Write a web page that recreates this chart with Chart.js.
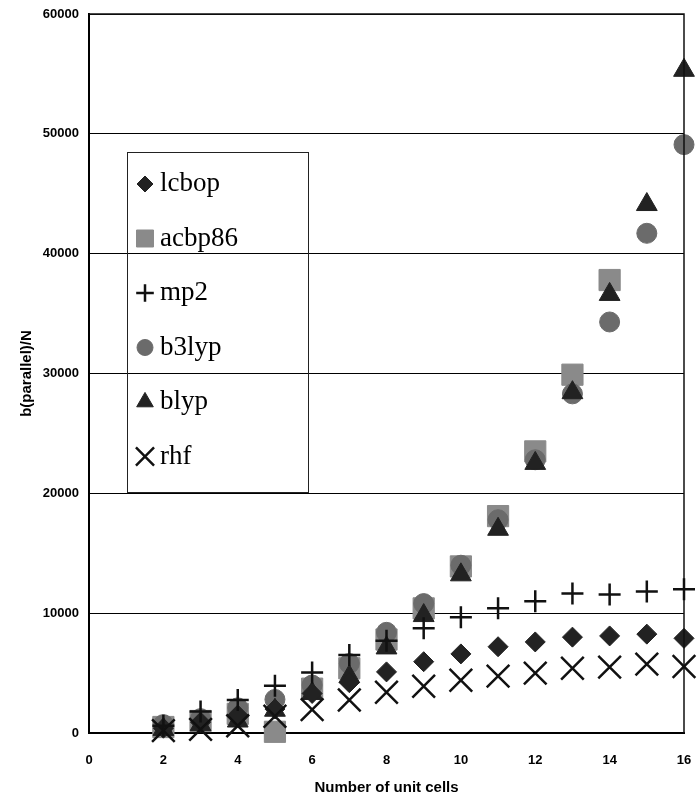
<!DOCTYPE html>
<html>
<head>
<meta charset="utf-8">
<script src="https://cdn.jsdelivr.net/npm/chart.js@4.4.0/dist/chart.umd.min.js"></script>
<style>
  html, body { margin: 0; padding: 0; background: #fff; }
  #wrap { width: 698px; height: 801px; }
</style>
</head>
<body>
<div id="wrap"><canvas id="chart" width="698" height="801"></canvas></div>
<script>
const cells = [2, 3, 4, 5, 6, 7, 8, 9, 10, 11, 12, 13, 14, 15, 16];
const lcbop  = [400, 900, 1500, 2000, 3300, 4200, 5100, 5950, 6600, 7200, 7600, 8000, 8100, 8250, 7900];
const acbp86 = [500, 1000, 1600, 100, 3700, 5400, 7800, 10400, 13900, 18100, 23500, 29900, 37800, null, null];
const mp2    = [600, 1800, 2750, 3950, 5050, 6500, 7700, 8750, 9650, 10400, 11000, 11650, 11550, 11800, 12000];
const b3lyp  = [700, 1200, 2100, 2800, 4000, 5800, 8400, 10800, 14000, 17800, 22800, 28300, 34300, 41700, 49100];
const blyp   = [300, 700, 1000, 1900, 3300, 4700, 7100, 9800, 13200, 17000, 22500, 28400, 36600, 44100, 55300];
const rhf    = [200, 300, 600, 1400, 1950, 2750, 3400, 3900, 4400, 4750, 5000, 5400, 5500, 5750, 5550];

const xTicks = [0, 2, 4, 6, 8, 10, 12, 14, 16];
const yTicks = [0, 10000, 20000, 30000, 40000, 50000, 60000];

function pts(vals) {
  return cells.map((c, i) => ({ x: c, y: vals[i] })).filter(p => p.y !== null);
}

const series = [
  { label: 'lcbop',  data: lcbop,  style: 'rectRot',  r: 10, fill: '#222', line: '#222', bw: 1,   order: 2 },
  { label: 'acbp86', data: acbp86, style: 'rect',     r: 15, fill: '#8a8a8a', line: '#8a8a8a', bw: 1, order: 5 },
  { label: 'mp2',    data: mp2,    style: 'cross',    r: 11, fill: '#111', line: '#111', bw: 2.5, order: 0 },
  { label: 'b3lyp',  data: b3lyp,  style: 'circle',   r: 10, fill: '#6b6b6b', line: '#6b6b6b', bw: 1, order: 4 },
  { label: 'blyp',   data: blyp,   style: 'triangle', r: 12, fill: '#222', line: '#222', bw: 1,   order: 3 },
  { label: 'rhf',    data: rhf,    style: 'crossRot', r: 16, fill: '#111', line: '#111', bw: 2.5, order: 1 }
];

const boxLegend = {
  id: 'boxLegend',
  afterDraw(chart) {
    const ctx = chart.ctx;
    const a = chart.chartArea;
    const left = a.left + 38, top = a.top + 138, w = 181, h = 340;
    ctx.save();
    ctx.lineWidth = 1;
    ctx.strokeStyle = '#222';
    ctx.strokeRect(left + 0.5, top + 0.5, w, h);
    ctx.font = '27px "Liberation Serif", "Times New Roman", serif';
    ctx.textBaseline = 'middle';
    ctx.textAlign = 'left';
    series.forEach((s, i) => {
      const y = top + 32 + i * 54.5;
      const x = left + 18;
      ctx.fillStyle = s.fill;
      ctx.strokeStyle = s.line;
      ctx.lineWidth = s.bw;
      Chart.helpers.drawPoint(ctx, { pointStyle: s.style, radius: s.r * 0.8, rotation: 0, borderWidth: s.bw }, x, y);
      ctx.fillStyle = '#000';
      ctx.fillText(s.label, left + 33, y);
    });
    ctx.restore();
  }
};

const frame = {
  id: 'frame',
  afterDatasetsDraw(chart) {
    const ctx = chart.ctx;
    const a = chart.chartArea;
    ctx.save();
    ctx.strokeStyle = '#111';
    ctx.lineWidth = 1.5;
    ctx.beginPath();
    ctx.moveTo(a.left, a.top);
    ctx.lineTo(a.right, a.top);
    ctx.lineTo(a.right, a.bottom);
    ctx.stroke();
    ctx.restore();
  }
};

const tickFont = { family: '"Liberation Sans", Arial, sans-serif', size: 13, weight: 'bold' };

new Chart(document.getElementById('chart'), {
  type: 'scatter',
  data: {
    datasets: series.map(s => ({
      label: s.label,
      data: pts(s.data),
      pointStyle: s.style,
      pointRadius: s.r,
      pointHoverRadius: s.r,
      backgroundColor: s.fill,
      borderColor: s.line,
      borderWidth: s.bw,
      order: s.order,
      clip: false
    }))
  },
  options: {
    responsive: false,
    animation: false,
    layout: { autoPadding: false, padding: { top: 14, right: 14, left: 0, bottom: 0 } },
    plugins: {
      legend: { display: false },
      tooltip: { enabled: false }
    },
    scales: {
      x: {
        type: 'linear',
        min: 0, max: 16,
        afterBuildTicks: s => { s.ticks = xTicks.map(v => ({ value: v })); },
        afterFit: s => { s.height = 68; s.paddingLeft = 0; s.paddingRight = 0; },
        ticks: { color: '#000', padding: 12, font: tickFont, callback: v => String(v) },
        grid: { display: false },
        border: { display: true, color: '#000', width: 2 },
        title: {
          display: true, text: 'Number of unit cells', color: '#000',
          font: { family: '"Liberation Sans", Arial, sans-serif', size: 15, weight: 'bold' },
          padding: { top: 0, bottom: 4 }
        }
      },
      y: {
        min: 0, max: 60000,
        afterBuildTicks: s => { s.ticks = yTicks.map(v => ({ value: v })); },
        afterFit: s => { s.width = 89; s.paddingTop = 0; s.paddingBottom = 0; },
        ticks: { color: '#000', padding: 10, font: tickFont, callback: v => String(v) },
        grid: { color: '#000', lineWidth: 1, drawTicks: false },
        border: { display: true, color: '#000', width: 2 },
        title: {
          display: true, text: 'b(parallel)/N', color: '#000',
          font: { family: '"Liberation Sans", Arial, sans-serif', size: 15, weight: 'bold' },
          padding: { top: 18, bottom: 0 }
        }
      }
    }
  },
  plugins: [frame, boxLegend]
});
</script>
</body>
</html>
